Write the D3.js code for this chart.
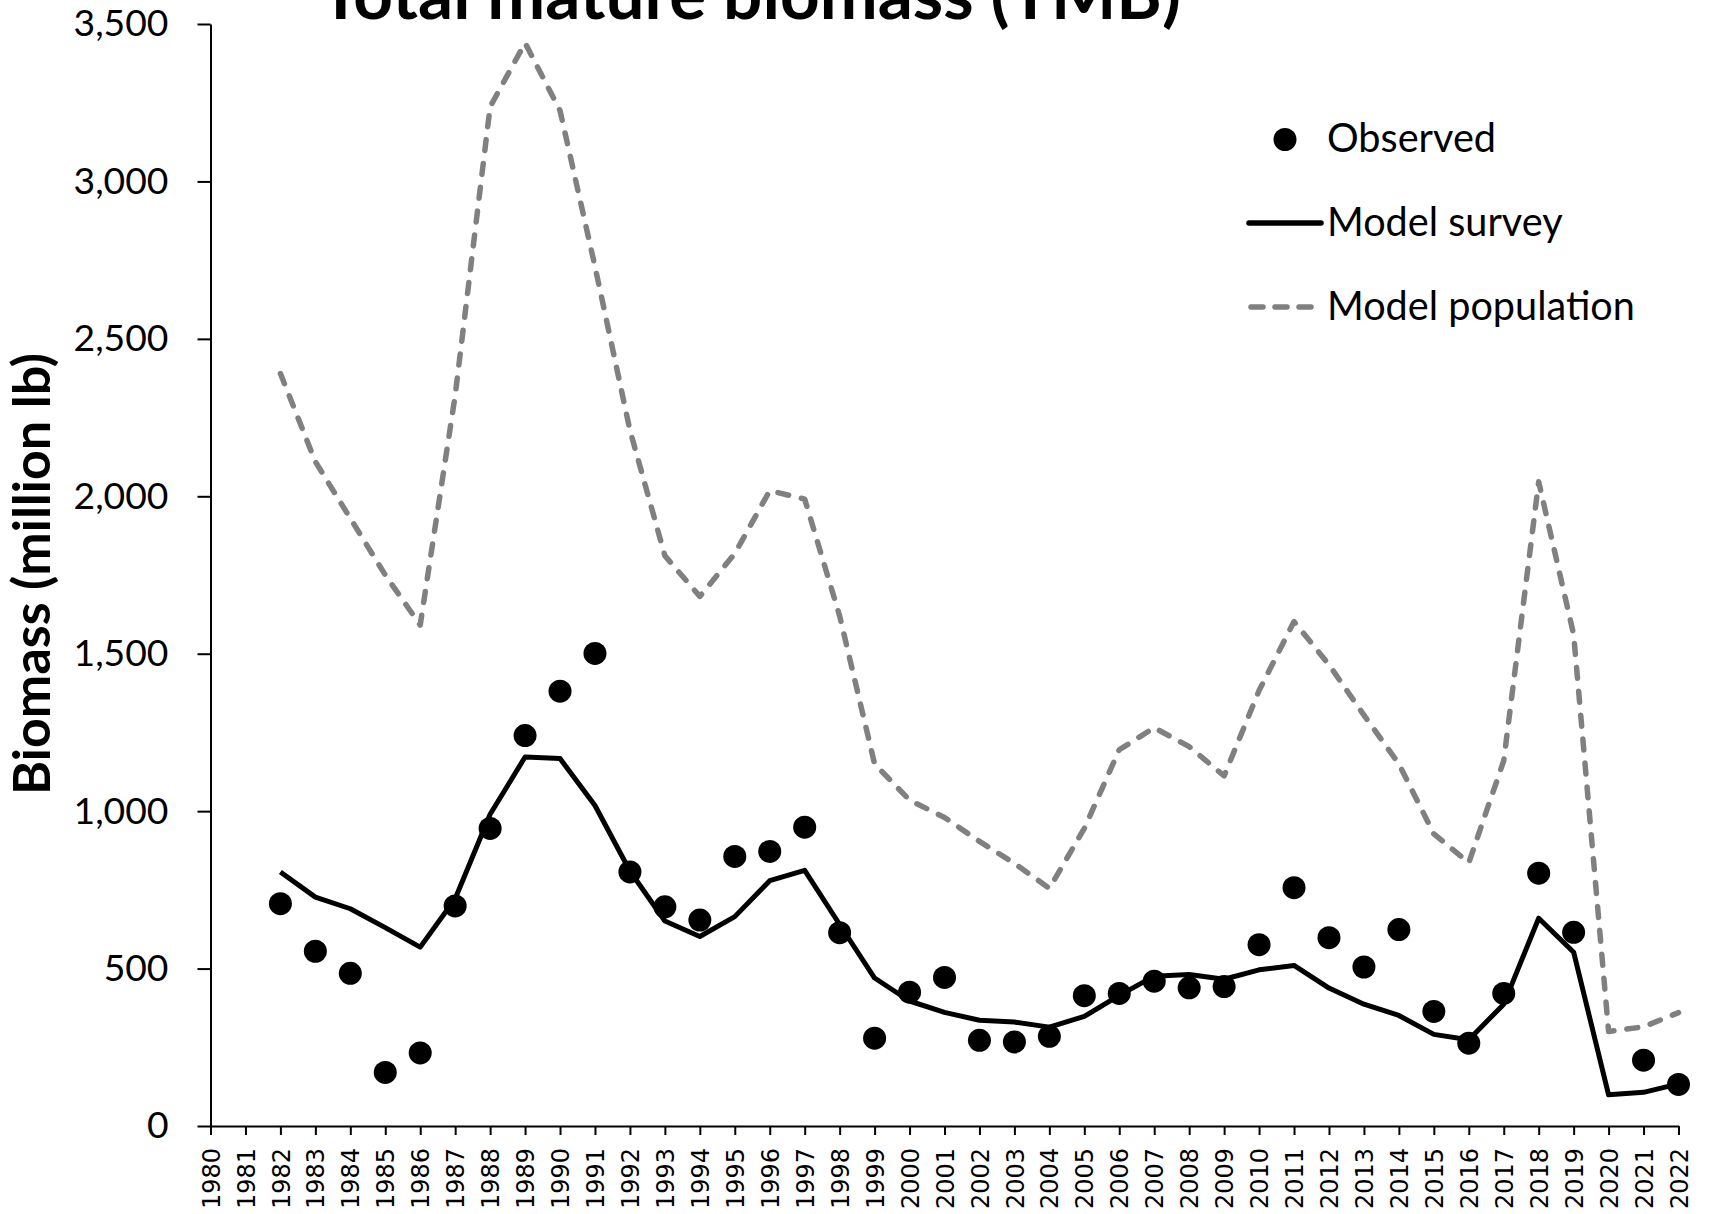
<!DOCTYPE html>
<html>
<head>
<meta charset="utf-8">
<script src="https://cdn.jsdelivr.net/npm/d3@7"></script>
<style>
  html, body { margin: 0; padding: 0; background: #fff; }
  svg { display: block; }
</style>
</head>
<body>
<svg id="chart" width="1709" height="1214"></svg>
<script>
const years = d3.range(1982, 2023);
const observed = [706, 555, 485, 170, 232, 699, 945, 1240, 1381, 1501,
  807, 696, 654, 856, 872, 949, 614, 279, 425, 472,
  272, 267, 285, 414, 421, 460, 439, 443, 576, 757,
  598, 505, 624, 364, 263, 421, 803, 615, null, 209, 132];
const modelSurvey = [807, 727, 690, 630, 568, 722, 990, 1172, 1167, 1018,
  810, 651, 602, 665, 779, 812, 640, 470, 397, 361,
  336, 330, 314, 348, 415, 476, 481, 466, 496, 510,
  438, 387, 351, 291, 274, 387, 660, 552, 99, 107, 134];
const modelPopulation = [2390, 2110, 1930, 1750, 1591, 2320, 3237, 3440, 3225, 2730,
  2210, 1811, 1682, 1818, 2018, 1991, 1620, 1150, 1035, 980,
  904, 834, 755, 945, 1195, 1265, 1205, 1112, 1383, 1602,
  1465, 1305, 1150, 928, 836, 1160, 2046, 1561, 300, 315, 360];
const xTickYears = d3.range(1980, 2023);
const yTicks = [0, 500, 1000, 1500, 2000, 2500, 3000, 3500];
const seriesNames = ["Observed", "Model survey", "Model population"];
const titleText = "Total mature biomass (TMB)";
const yLabelText = "Biomass (million lb)";

const svg = d3.select("#chart");
const FONT = "Lato, 'Open Sans', sans-serif";

const x = d3.scaleLinear().domain([1980, 2022]).range([210.5, 1678.5]);
const y = d3.scaleLinear().domain([0, 3500]).range([1126, 24]);

function fit(sel, target) {
  const n = sel.node();
  const fs = parseFloat(sel.attr("font-size"));
  const w = n.getComputedTextLength();
  sel.attr("font-size", (fs * target / w).toFixed(2));
}

// Y axis
const yAxis = svg.append("g")
  .attr("transform", `translate(${x(1980)},0)`)
  .call(d3.axisLeft(y).tickValues(yTicks).tickSize(13).tickSizeOuter(0)
    .tickPadding(29).tickFormat(d3.format(",")));
yAxis.selectAll("path, line").attr("stroke", "#000").attr("stroke-width", 2);
yAxis.selectAll("text").attr("font-family", FONT).attr("font-size", 37).attr("fill", "#000");
(function () {
  const t = yAxis.selectAll("text").filter(d => d === 3500);
  const w = t.node().getComputedTextLength();
  const fs = 37 * 95 / w;
  yAxis.selectAll("text").attr("font-size", fs.toFixed(2));
})();

// X axis
const xAxis = svg.append("g")
  .attr("transform", `translate(0,${y(0)})`)
  .call(d3.axisBottom(x).tickValues(xTickYears).tickSize(9).tickSizeOuter(0)
    .tickFormat(d => String(d)));
xAxis.selectAll("path, line").attr("stroke", "#000").attr("stroke-width", 2);
xAxis.selectAll("text")
  .attr("font-family", "'DejaVu Sans', sans-serif")
  .attr("font-size", 24)
  .attr("fill", "#000")
  .attr("text-anchor", "end")
  .attr("transform", "rotate(-90)")
  .attr("x", -22)
  .attr("y", 0)
  .attr("dy", "0.36em");

// Lines
const line = d3.line().x((d, i) => x(years[i])).y(d => y(d));
svg.append("path")
  .datum(modelPopulation)
  .attr("d", line)
  .attr("fill", "none")
  .attr("stroke", "#808080")
  .attr("stroke-width", 5.5)
  .attr("stroke-dasharray", "11,13")
  .attr("stroke-linecap", "round")
  .attr("stroke-linejoin", "round");

svg.append("path")
  .datum(modelSurvey)
  .attr("d", line)
  .attr("fill", "none")
  .attr("stroke", "#000")
  .attr("stroke-width", 5)
  .attr("stroke-linejoin", "round");

// Observed points
svg.append("g").selectAll("circle")
  .data(observed.map((v, i) => ({ year: years[i], v })).filter(d => d.v != null))
  .join("circle")
  .attr("cx", d => x(d.year))
  .attr("cy", d => y(d.v))
  .attr("r", 11.5)
  .attr("fill", "#000");

// Title
const title = svg.append("text")
  .attr("x", 750.5)
  .attr("y", 19)
  .attr("text-anchor", "middle")
  .attr("font-family", FONT)
  .attr("font-weight", "bold")
  .attr("font-size", 70)
  .attr("fill", "#000")
  .text(titleText);
fit(title, 861);

// Y label
const yl = svg.append("text")
  .attr("transform", "translate(50,574) rotate(-90)")
  .attr("text-anchor", "middle")
  .attr("font-family", FONT)
  .attr("font-weight", "bold")
  .attr("font-size", 50)
  .attr("fill", "#000")
  .text(yLabelText);
fit(yl, 442);

// Legend
const legendY = [139.5, 223, 307];
const lg = svg.append("g");
lg.append("circle").attr("cx", 1285).attr("cy", legendY[0]).attr("r", 11.5).attr("fill", "#000");
lg.append("line").attr("x1", 1249).attr("x2", 1321).attr("y1", legendY[1]).attr("y2", legendY[1])
  .attr("stroke", "#000").attr("stroke-width", 5.5).attr("stroke-linecap", "round");
lg.append("line").attr("x1", 1251).attr("x2", 1318).attr("y1", legendY[2]).attr("y2", legendY[2])
  .attr("stroke", "#808080").attr("stroke-width", 5.5).attr("stroke-linecap", "round")
  .attr("stroke-dasharray", "12,12");
const lt = lg.selectAll("text.leg")
  .data(seriesNames)
  .join("text")
  .attr("class", "leg")
  .attr("x", 1327)
  .attr("y", (d, i) => legendY[i] + 12.5)
  .attr("font-family", FONT)
  .attr("font-size", 38)
  .attr("fill", "#000")
  .text(d => d);
(function () {
  const t = lt.filter(d => d === "Model population");
  const w = t.node().getComputedTextLength();
  lt.attr("font-size", (38 * 308 / w).toFixed(2));
})();
</script>
</body>
</html>
